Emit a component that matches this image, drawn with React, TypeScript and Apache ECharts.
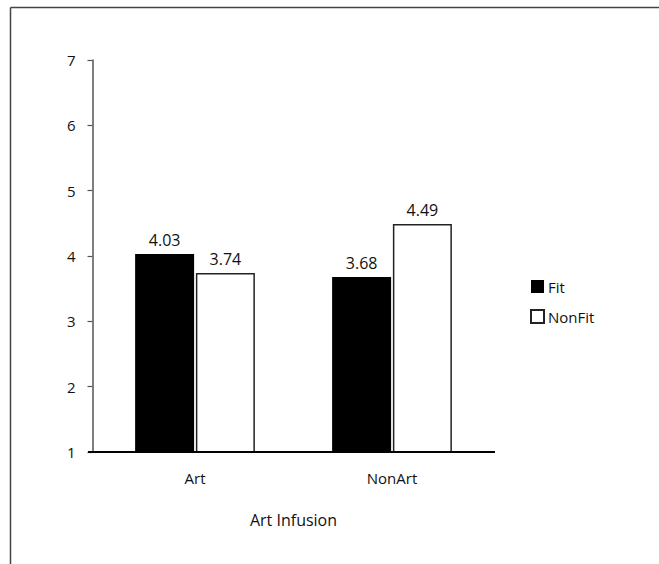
import React, { useEffect, useRef } from "react";
import * as echarts from "echarts";

const categories = ["Art", "NonArt"];
const fitValues = [4.03, 3.68];
const nonFitValues = [3.74, 4.49];
const seriesNames = ["Fit", "NonFit"];
const yTicks = { min: 1, max: 7, interval: 1 };
const xAxisTitle = "Art Infusion";

const FONT = "'Open Sans', 'Noto Sans', sans-serif";

export default function App() {
  const ref = useRef<HTMLDivElement>(null);
  useEffect(() => {
    if (!ref.current) return;
    const chart = echarts.init(ref.current, null, { renderer: "svg" });
    const gridLeft = 96.5;
    const gridTop = 60;
    const gridW = 394;
    const gridH = 392;
    chart.setOption({
      animation: false,
      backgroundColor: "#ffffff",
      textStyle: { fontFamily: FONT },
      grid: { left: gridLeft, top: gridTop, width: gridW, height: gridH, containLabel: false },
      legend: {
        orient: "vertical",
        left: 525,
        top: 274,
        itemWidth: 13,
        itemHeight: 13,
        itemGap: 15,
        icon: "rect",
        data: seriesNames,
        textStyle: { fontFamily: FONT, fontSize: 15, color: "#111", padding: [0, 0, 0, -1] },
      },
      xAxis: {
        type: "category",
        data: categories,
        axisLine: { show: false },
        axisTick: { show: false },
        axisLabel: { fontFamily: FONT, fontSize: 15, color: "#111", margin: 18 },
        name: xAxisTitle,
        nameLocation: "middle",
        nameGap: 60,
        nameTextStyle: { fontFamily: FONT, fontSize: 16, color: "#111" },
      },
      yAxis: {
        type: "value",
        min: yTicks.min,
        max: yTicks.max,
        interval: yTicks.interval,
        offset: 4,
        splitLine: { show: false },
        axisLine: { show: true, lineStyle: { color: "#555", width: 1.5 } },
        axisTick: { show: true, length: 5, lineStyle: { color: "#555", width: 1.2 } },
        axisLabel: { fontFamily: FONT, fontSize: 15, color: "#111", margin: 17 },
      },
      graphic: [
        { type: "line", shape: { x1: 10.5, y1: 7.5, x2: 659, y2: 7.5 }, style: { stroke: "#444", lineWidth: 1.5 } },
        { type: "line", shape: { x1: 10.5, y1: 7.5, x2: 10.5, y2: 564 }, style: { stroke: "#444", lineWidth: 1.5 } },
        { type: "line", shape: { x1: 88, y1: gridTop + gridH, x2: 495, y2: gridTop + gridH }, style: { stroke: "#000", lineWidth: 2 }, z: 10 },
      ],
      series: [
        {
          name: seriesNames[0],
          type: "bar",
          data: fitValues,
          barWidth: 59,
          barGap: "3%",
          itemStyle: { color: "#000000", borderColor: "#000000", borderWidth: 0 },
          label: { show: true, position: "top", distance: 6, fontFamily: FONT, fontSize: 16, color: "#111", formatter: (p: any) => p.value.toFixed(2) },
        },
        {
          name: seriesNames[1],
          type: "bar",
          data: nonFitValues,
          barWidth: 59,
          barGap: "3%",
          itemStyle: { color: "#ffffff", borderColor: "#222222", borderWidth: 1.5 },
          label: { show: true, position: "top", distance: 6, fontFamily: FONT, fontSize: 16, color: "#111", formatter: (p: any) => p.value.toFixed(2) },
        },
      ],
    });
    return () => chart.dispose();
  }, []);
  return (
    <div
      ref={ref}
      style={{ position: "fixed", left: 0, top: 0, width: 659, height: 564, background: "#fff" }}
    />
  );
}
